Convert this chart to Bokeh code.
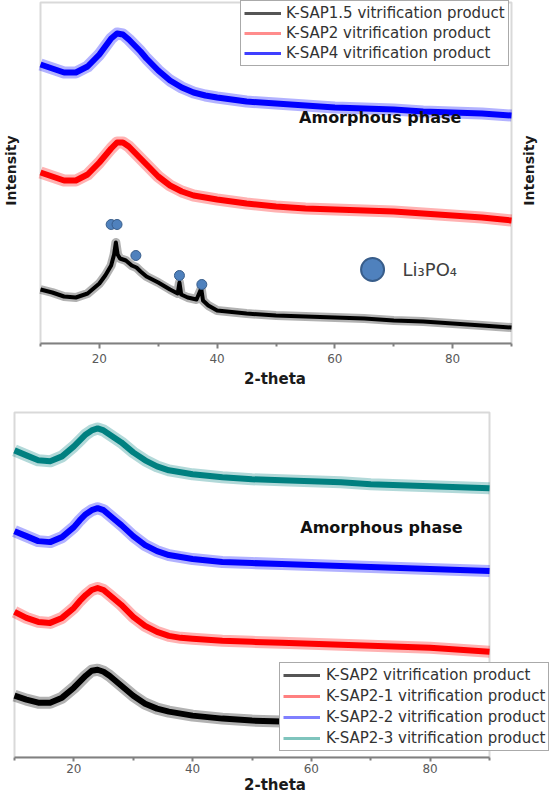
import math
from bokeh.plotting import figure
from bokeh.models import Legend, LegendItem, Label, FixedTicker, Range1d, BoxAnnotation
from bokeh.layouts import column
from bokeh.embed import file_html
from bokeh.resources import INLINE

# ---------------- data (2-theta in degrees, intensity in arbitrary units) ----------------
theta = [10, 12, 14, 16, 18, 20, 21, 22, 23, 24, 25, 26, 27, 28, 30, 32, 34, 36, 38, 40,
         45, 50, 55, 60, 65, 70, 75, 80, 85, 90]

# upper panel
ksap4 = [279, 275, 271, 271, 277, 289, 297, 305, 310, 309, 304, 298, 292, 285, 273, 263, 256, 251, 248, 246,
         242, 240, 238, 236, 235, 234, 232, 231, 230, 228]
ksap2 = [171, 167, 163, 163, 169, 181, 188, 195, 201, 201, 197, 191, 185, 179, 167, 158, 152, 148, 146, 144,
         140, 137, 135, 134, 133, 132, 130, 128, 126, 123]
theta_ksap15 = [10, 12, 14, 16, 18, 20, 21, 22, 22.5, 22.8, 23.1, 23.5, 24.5, 25.5, 26.3, 27, 28, 30, 32,
                33.3, 33.6, 33.9, 35, 36.5, 37.3, 37.6, 38.5, 40, 45, 50, 55, 60, 65, 70, 75, 80, 85, 90]
ksap15 = [54, 51, 47, 46, 50, 60, 68, 78, 89, 101, 89, 85, 83, 78, 76, 72, 67, 61, 54,
          50, 61, 49, 46, 44, 55, 43, 38, 33, 30, 28, 27, 26, 25, 23, 22, 20, 18, 16]
li3po4_theta = [22.0, 23.0, 26.2, 33.6, 37.4]
li3po4_int = [119, 119, 88, 68, 59]

# lower panel
ksap2_3 = [308, 303, 298, 297, 302, 312, 318, 324, 328, 330, 328, 324, 320, 316, 306, 298, 292, 288, 286, 284,
           281, 279, 278, 277, 276, 274, 273, 272, 271, 270]
ksap2_2 = [227, 222, 217, 216, 221, 231, 238, 244, 248, 250, 248, 243, 238, 233, 222, 213, 207, 203, 201, 199,
           196, 195, 194, 193, 192, 191, 190, 189, 188, 187]
ksap2_1 = [146, 140, 136, 135, 140, 150, 157, 163, 168, 170, 168, 163, 158, 153, 141, 132, 126, 122, 120, 119,
           117, 116, 115, 114, 113, 112, 111, 110, 108, 106]
ksap2_0 = [62, 58, 55, 55, 60, 70, 76, 82, 87, 88, 86, 82, 77, 72, 62, 54, 49, 46, 44, 42,
           39, 37, 36, 35, 34, 33, 32, 31, 30, 29]

major_ticks = [20, 40, 60, 80]
minor_ticks = [10, 30, 50, 70, 90]

top_labels = ["K-SAP1.5 vitrification product", "K-SAP2 vitrification product", "K-SAP4 vitrification product"]
bottom_labels = ["K-SAP2 vitrification product", "K-SAP2-1 vitrification product",
                 "K-SAP2-2 vitrification product", "K-SAP2-3 vitrification product"]

GREY = "#808080"
FONT = "DejaVu Sans"
NAN = float("nan")


def make_fig(height, x0, x1, bt, bb, y_end, box_top, tick_out, standoff, label_standoff):
    p = figure(width=549, height=height, x_range=Range1d(x0, x1), y_range=Range1d(0, y_end),
               output_backend="svg", toolbar_location=None, y_axis_location=None,
               min_border_left=0, min_border_right=0, min_border_top=bt, min_border_bottom=bb)
    p.xgrid.visible = False
    p.ygrid.visible = False
    p.outline_line_color = None
    p.background_fill_color = "white"
    p.border_fill_color = "white"
    ax = p.xaxis[0]
    ax.bounds = (10, 90)
    ax.ticker = FixedTicker(ticks=major_ticks, minor_ticks=minor_ticks)
    ax.axis_line_color = GREY
    ax.axis_line_width = 2
    ax.major_tick_line_color = GREY
    ax.major_tick_line_width = 2
    ax.major_tick_out = tick_out
    ax.major_tick_in = 0
    ax.minor_tick_line_color = GREY
    ax.minor_tick_line_width = 2
    ax.minor_tick_out = 3
    ax.minor_tick_in = 0
    ax.major_label_standoff = standoff
    ax.major_label_text_font = FONT
    ax.major_label_text_font_size = "12px"
    ax.major_label_text_color = "#5a5a5a"
    ax.axis_label = "2-theta"
    ax.axis_label_standoff = label_standoff
    ax.axis_label_text_font = FONT
    ax.axis_label_text_font_style = "bold"
    ax.axis_label_text_font_size = "15px"
    ax.axis_label_text_color = "#1a1a1a"
    # plot frame (grey box around the 10..90 region)
    p.add_layout(BoxAnnotation(left=10, right=90, bottom=0, top=box_top, fill_alpha=0,
                               line_color=GREY, line_width=2, level="underlay"))
    return p


def noisy_line(p, x, y, color, core=6, halo=12):
    # soft halo + solid core to mimic the width of a noisy diffraction trace
    p.line(x, y, line_color=color, line_width=halo, line_alpha=0.3, line_join="round")
    p.line(x, y, line_color=color, line_width=core, line_join="round")


def style_legend(leg):
    leg.label_text_font = FONT
    leg.label_text_font_size = "15px"
    leg.label_text_color = "#333333"
    leg.glyph_width = 37
    leg.glyph_height = 18
    leg.label_height = 18
    leg.label_standoff = 5
    leg.padding = 3
    leg.margin = 0
    leg.border_line_color = "#555555"
    leg.border_line_width = 1.5
    leg.background_fill_color = "white"
    leg.background_fill_alpha = 1.0


# ---------------- upper panel ----------------
# frame spans the whole figure width: 10 -> 48px, 90 -> 519px (page coords)
top = make_fig(397, 3.206, 96.454, 0, 54, 343, 341, 5, 5, 4)
noisy_line(top, theta_ksap15, ksap15, "black", core=4, halo=9)
noisy_line(top, theta, ksap2, "#ff0000")
noisy_line(top, theta, ksap4, "#0000ff")
top.scatter(li3po4_theta, li3po4_int, size=10, fill_color="#4f81bd", line_color="#385d8a", line_width=1)

# Li3PO4 key
top.scatter([66.4], [74], size=23, fill_color="#4f81bd", line_color="#385d8a", line_width=2)
top.add_layout(Label(x=71.5, y=74, text="Li₃PO₄", text_font=FONT, text_font_size="18px",
                     text_color="#404040", text_baseline="middle", text_align="left"))

top.add_layout(Label(x=67.7, y=226, text="Amorphous phase", text_font=FONT, text_font_style="bold",
                     text_font_size="16px", text_color="#111111", text_align="center", text_baseline="middle"))
top.add_layout(Label(x=5.07, y=173, text="Intensity", angle=math.pi / 2, text_font=FONT, text_font_style="bold",
                     text_font_size="14px", text_color="#1a1a1a", text_align="center", text_baseline="middle"))
top.add_layout(Label(x=92.9, y=173, text="Intensity", angle=math.pi / 2, text_font=FONT, text_font_style="bold",
                     text_font_size="14px", text_color="#1a1a1a", text_align="center", text_baseline="middle"))

top_keys = ["#555555", "#ff8c8c", "#3f3fff"]
top_items = []
for lab, c in zip(top_labels, top_keys):
    r = top.line([NAN], [NAN], line_color=c, line_width=3)
    top_items.append(LegendItem(label=lab, renderers=[r]))
top_leg = Legend(items=top_items, location=(240, 277))
style_legend(top_leg)
top_leg.spacing = 2
top.add_layout(top_leg)

# ---------------- lower panel ----------------
# 10 -> 22px, 90 -> 497px (page coords)
bot = make_fig(399, 7.642, 100.105, 12, 38, 349, 346, 4, 2, 0)
noisy_line(bot, theta, ksap2_0, "black")
noisy_line(bot, theta, ksap2_1, "#ff0000")
noisy_line(bot, theta, ksap2_2, "#0000ff")
noisy_line(bot, theta, ksap2_3, "#008080")

bot.add_layout(Label(x=71.8, y=231, text="Amorphous phase", text_font=FONT, text_font_style="bold",
                     text_font_size="16px", text_color="#111111", text_align="center", text_baseline="middle"))

bot_keys = ["#555555", "#ff8080", "#8080ff", "#7fc4bd"]
bot_items = []
for lab, c in zip(bottom_labels, bot_keys):
    r = bot.line([NAN], [NAN], line_color=c, line_width=3)
    bot_items.append(LegendItem(label=lab, renderers=[r]))
bot_leg = Legend(items=bot_items, location=(279, 6))
style_legend(bot_leg)
bot_leg.spacing = 3
bot_leg.label_standoff = 6
bot.add_layout(bot_leg)

layout = column(top, bot, spacing=0)
open("out.html", "w").write(file_html(layout, INLINE))
